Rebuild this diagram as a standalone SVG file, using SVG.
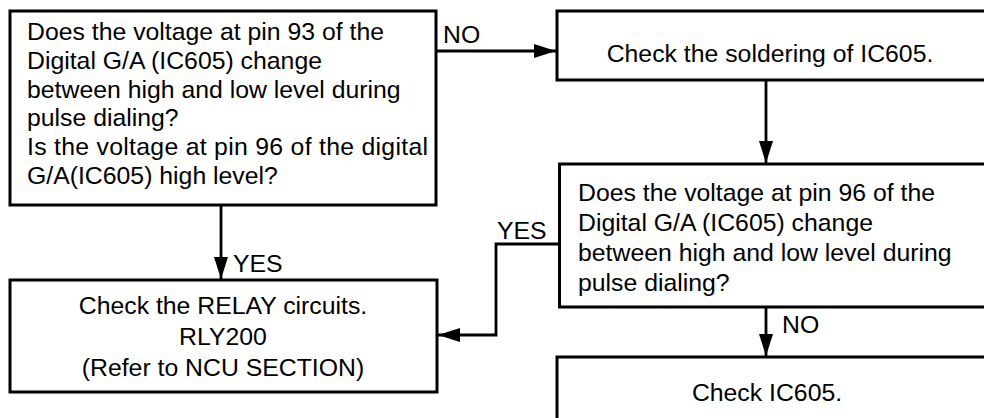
<svg xmlns="http://www.w3.org/2000/svg" width="984" height="418" viewBox="0 0 984 418">
<defs>
<style>
.box{fill:#fff;stroke:#000;stroke-width:3}
.t{font-family:"Liberation Sans",Arial,sans-serif;font-size:24.8px;fill:#000}
.c{text-anchor:middle}
.con{fill:none;stroke:#000;stroke-width:2.8}
</style>
<marker id="ah" markerUnits="userSpaceOnUse" markerWidth="24" markerHeight="16" refX="22" refY="7" orient="auto">
<path d="M0,0 L22,7 L0,14 Z" fill="#000"/>
</marker>
</defs>
<rect width="984" height="418" fill="#fff"/>
<g id="connectors">
<line class="con" x1="436" y1="51" x2="556" y2="51" marker-end="url(#ah)"/>
<line class="con" x1="766" y1="80" x2="766" y2="163" marker-end="url(#ah)"/>
<line class="con" x1="221" y1="205" x2="221" y2="279" marker-end="url(#ah)"/>
<polyline class="con" points="559,244 496,244 496,335 438,335" marker-end="url(#ah)"/>
<line class="con" x1="766" y1="307" x2="766" y2="356" marker-end="url(#ah)"/>
<text class="t" x="443" y="43">NO</text>
<text class="t" x="233" y="272">YES</text>
<text class="t" x="497" y="239">YES</text>
<text class="t" x="782" y="333">NO</text>
</g>
<g id="n1">
<rect class="box" x="10" y="11" width="426" height="194"/>
<text class="t" x="27" y="40">Does the voltage at pin 93 of the</text>
<text class="t" x="27" y="69">Digital G/A (IC605) change</text>
<text class="t" x="27" y="98">between high and low level during</text>
<text class="t" x="27" y="126">pulse dialing?</text>
<text class="t" x="27" y="155" textLength="401" lengthAdjust="spacing">Is the voltage at pin 96 of the digital</text>
<text class="t" x="27" y="184">G/A(IC605) high level?</text>
</g>
<g id="n2">
<rect class="box" x="557" y="11" width="440" height="69"/>
<text class="t c" x="770" y="62">Check the soldering of IC605.</text>
</g>
<g id="n3">
<rect class="box" x="559.5" y="164" width="440" height="143"/>
<text class="t" x="578" y="201">Does the voltage at pin 96 of the</text>
<text class="t" x="578" y="231">Digital G/A (IC605) change</text>
<text class="t" x="578" y="261">between high and low level during</text>
<text class="t" x="578" y="291">pulse dialing?</text>
</g>
<g id="n4">
<rect class="box" x="10" y="280" width="427" height="112"/>
<text class="t c" x="223" y="314">Check the RELAY circuits.</text>
<text class="t c" x="223" y="345">RLY200</text>
<text class="t c" x="223" y="376">(Refer to NCU SECTION)</text>
</g>
<g id="n5">
<rect class="box" x="557" y="357" width="440" height="80"/>
<text class="t c" x="767" y="401">Check IC605.</text>
</g>
</svg>
